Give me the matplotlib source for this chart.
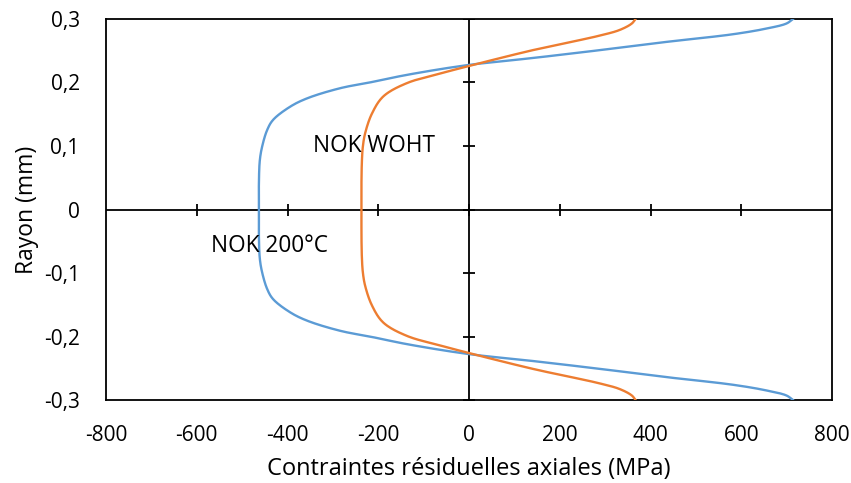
import matplotlib
matplotlib.use("Agg")
import matplotlib.pyplot as plt
import numpy as np

plt.rcParams['font.family'] = ['Open Sans', 'DejaVu Sans']

# Upper half of each profile (radius mm, stress MPa); curves are symmetric about r=0
r_blue_upper = [0.300, 0.293, 0.285, 0.276, 0.264, 0.251, 0.2386, 0.2275, 0.212, 0.201,
                0.191, 0.175, 0.162, 0.141, 0.125, 0.099, 0.078, 0.046, 0.0]
s_blue_upper = [714, 700, 656, 582, 436, 289, 141, -2, -137, -212,
                -284, -357, -394, -432, -445, -456, -461, -463, -463]

r_orange_upper = [0.300, 0.293, 0.283, 0.274, 0.251, 0.2255, 0.214, 0.199, 0.178,
                  0.151, 0.120, 0.099, 0.078, 0.046, 0.0]
s_orange_upper = [367, 359, 333, 289, 141, -3, -64, -137, -189,
                  -214, -229, -234, -236, -237, -237]

x_ticks = [-800, -600, -400, -200, 0, 200, 400, 600, 800]
x_tick_labels = ['-800', '-600', '-400', '-200', '0', '200', '400', '600', '800']
y_ticks = [-0.3, -0.2, -0.1, 0.0, 0.1, 0.2, 0.3]
y_tick_labels = ['-0,3', '-0,2', '-0,1', '0', '0,1', '0,2', '0,3']


def full_profile(r_up, s_up):
    r_up = np.array(r_up, float)
    s_up = np.array(s_up, float)
    r = np.concatenate([r_up, -r_up[::-1][1:]])
    s = np.concatenate([s_up, s_up[::-1][1:]])
    return r, s


def catmull_rom(x, y, sx, sy, n=20):
    # centripetal Catmull-Rom through the read points (rendering only, like Excel smoothing)
    P = np.column_stack([x * sx, y * sy])
    P = np.vstack([2 * P[0] - P[1], P, 2 * P[-1] - P[-2]])
    out = []
    for i in range(1, len(P) - 2):
        p0, p1, p2, p3 = P[i - 1], P[i], P[i + 1], P[i + 2]
        t0 = 0.0
        t1 = t0 + max(np.linalg.norm(p1 - p0), 1e-6) ** 0.5
        t2 = t1 + max(np.linalg.norm(p2 - p1), 1e-6) ** 0.5
        t3 = t2 + max(np.linalg.norm(p3 - p2), 1e-6) ** 0.5
        t = np.linspace(t1, t2, n)[:, None]
        A1 = (t1 - t) / (t1 - t0) * p0 + (t - t0) / (t1 - t0) * p1
        A2 = (t2 - t) / (t2 - t1) * p1 + (t - t1) / (t2 - t1) * p2
        A3 = (t3 - t) / (t3 - t2) * p2 + (t - t2) / (t3 - t2) * p3
        B1 = (t2 - t) / (t2 - t0) * A1 + (t - t0) / (t2 - t0) * A2
        B2 = (t3 - t) / (t3 - t1) * A2 + (t - t1) / (t3 - t1) * A3
        C = (t2 - t) / (t2 - t1) * B1 + (t - t1) / (t2 - t1) * B2
        out.append(C if i == len(P) - 3 else C[:-1])
    C = np.vstack(out)
    return C[:, 0] / sx, C[:, 1] / sy


fig = plt.figure(figsize=(8.51, 4.83), dpi=100)
ax = fig.add_axes([0.1246, 0.1718, 0.9777 - 0.1246, 0.9607 - 0.1718])

SX, SY = 0.454, 635.0
rb, sb = full_profile(r_blue_upper, s_blue_upper)
ro, so = full_profile(r_orange_upper, s_orange_upper)
xb, yb = catmull_rom(sb, rb, SX, SY)
xo, yo = catmull_rom(so, ro, SX, SY)
ax.plot(xb, yb, color='#5B9BD5', lw=1.7, solid_joinstyle='round', zorder=3)
ax.plot(xo, yo, color='#ED7D31', lw=1.7, solid_joinstyle='round', zorder=3)

ax.set_xlim(-800, 800)
ax.set_ylim(-0.3, 0.3)
for sp in ax.spines.values():
    sp.set_color('black')
    sp.set_linewidth(1.3)

ax.axhline(0, color='black', lw=1.3, zorder=2)
ax.axvline(0, color='black', lw=1.3, zorder=2)
ax.plot(x_ticks[1:-1], [0] * (len(x_ticks) - 2), ls='none', marker='|', ms=9, mew=1.3,
        color='black', zorder=2)
ax.plot([0] * len(y_ticks), y_ticks, ls='none', marker='_', ms=9, mew=1.3,
        color='black', zorder=2)

ax.set_xticks(x_ticks)
ax.set_xticklabels(x_tick_labels)
ax.set_yticks(y_ticks)
ax.set_yticklabels(y_tick_labels)
ax.tick_params(length=0, labelsize=15)
ax.tick_params(axis='x', pad=18)
ax.tick_params(axis='y', pad=19)

ax.set_xlabel('Contraintes résiduelles axiales (MPa)', fontsize=17, labelpad=8)
ax.set_ylabel('Rayon (mm)', fontsize=16.5, labelpad=3)

ax.text(-344, 0.1, 'NOK WOHT', fontsize=16.3, va='center', ha='left')
ax.text(-569, -0.0575, 'NOK 200°C', fontsize=16.3, va='center', ha='left')

fig.savefig('out.png', dpi=100)
